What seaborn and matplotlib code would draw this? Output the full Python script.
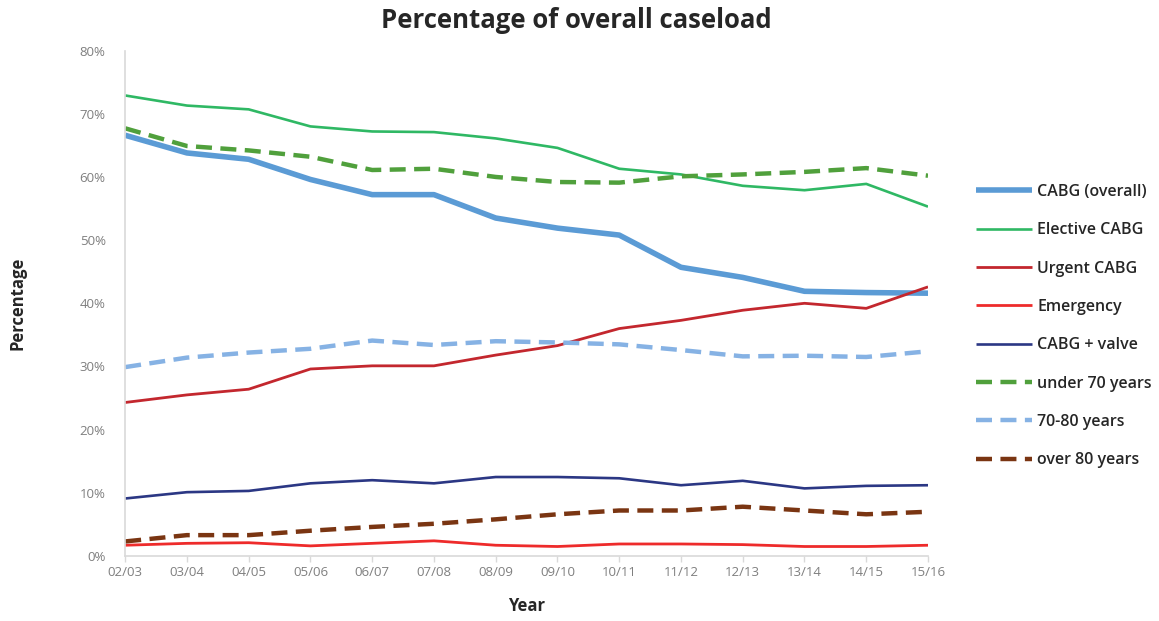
import matplotlib
matplotlib.use("Agg")
import matplotlib.pyplot as plt
import seaborn as sns
import pandas as pd
import numpy as np

years = ["02/03", "03/04", "04/05", "05/06", "06/07", "07/08", "08/09",
         "09/10", "10/11", "11/12", "12/13", "13/14", "14/15", "15/16"]

cabg_overall = [66.6, 63.8, 62.8, 59.6, 57.2, 57.2, 53.5, 51.9, 50.8, 45.7, 44.1, 41.9, 41.7, 41.6]
elective_cabg = [72.9, 71.3, 70.7, 68.0, 67.2, 67.1, 66.1, 64.6, 61.3, 60.4, 58.6, 57.9, 58.9, 55.3]
urgent_cabg = [24.3, 25.5, 26.4, 29.6, 30.1, 30.1, 31.8, 33.3, 36.0, 37.3, 38.9, 40.0, 39.2, 42.6]
emergency = [1.7, 2.0, 2.1, 1.6, 2.0, 2.4, 1.7, 1.5, 1.9, 1.9, 1.8, 1.5, 1.5, 1.7]
cabg_valve = [9.1, 10.1, 10.3, 11.5, 12.0, 11.5, 12.5, 12.5, 12.3, 11.2, 11.9, 10.7, 11.1, 11.2]
under_70 = [67.7, 64.9, 64.2, 63.2, 61.1, 61.3, 60.0, 59.2, 59.1, 60.1, 60.4, 60.8, 61.4, 60.2]
age_70_80 = [29.9, 31.4, 32.2, 32.8, 34.1, 33.4, 34.0, 33.8, 33.5, 32.6, 31.6, 31.7, 31.5, 32.4]
over_80 = [2.3, 3.3, 3.3, 4.0, 4.6, 5.1, 5.8, 6.6, 7.2, 7.2, 7.8, 7.2, 6.6, 7.0]

series_names = ["CABG (overall)", "Elective CABG", "Urgent CABG", "Emergency",
                "CABG + valve", "under 70 years", "70-80 years", "over 80 years"]
series_values = [cabg_overall, elective_cabg, urgent_cabg, emergency,
                 cabg_valve, under_70, age_70_80, over_80]

colors = ["#5B9BD5", "#2FB864", "#C3272E", "#EE2B2B", "#2B3784",
          "#50A03C", "#86B2E4", "#7A3512"]
widths = [4.0, 1.9, 2.0, 2.0, 1.9, 3.2, 3.2, 3.2]
dashed = [False, False, False, False, False, True, True, True]

rows = []
for name, vals in zip(series_names, series_values):
    for i, v in enumerate(vals):
        rows.append({"series": name, "pos": i, "value": v})
df = pd.DataFrame(rows)

sns.set_theme(style="white")
plt.rcParams['font.family'] = ['Open Sans', 'DejaVu Sans']

fig = plt.figure(figsize=(11.59, 6.21), dpi=100)
ax = fig.add_axes([0.108, 0.1047, 0.6927, 0.8138])

for name, c, lw, d in zip(series_names, colors, widths, dashed):
    sub = df[df["series"] == name]
    sns.lineplot(data=sub, x="pos", y="value", ax=ax, color=c, linewidth=lw,
                 label=name, legend=False)
    l = ax.lines[-1]
    if d:
        l.set_dashes([3.6, 1.9])
    l.set_solid_capstyle("butt")
    l.set_dash_capstyle("butt")

ax.set_xlim(0, len(years) - 1)
ax.set_ylim(0, 80)
ax.set_xticks(range(len(years)))
ax.set_xticklabels(years)
ax.set_yticks(np.arange(0, 81, 10))
ax.set_yticklabels([f"{v}%" for v in range(0, 81, 10)])
ax.tick_params(axis="both", labelsize=9.5, labelcolor="#7F7F7F")
ax.tick_params(axis="x", bottom=True, length=4, color="#D9D9D9", width=1, pad=3)
ax.tick_params(axis="y", left=False, pad=8)

for s in ["top", "right"]:
    ax.spines[s].set_visible(False)
for s in ["left", "bottom"]:
    ax.spines[s].set_color("#D9D9D9")
    ax.spines[s].set_linewidth(1.2)

ax.set_xlabel("Year", fontsize=12, fontweight="bold", labelpad=13)
ax.set_ylabel("Percentage", fontsize=12, fontweight="bold", labelpad=38)

fig.suptitle("Percentage of overall caseload", fontsize=18.5, fontweight="bold",
             x=0.497, y=0.988, va="top")

handles, labels = ax.get_legend_handles_labels()
leg = ax.legend(handles, labels, loc="upper left", bbox_to_anchor=(0.83, 0.727),
                bbox_transform=fig.transFigure, frameon=False, handlelength=3.5,
                handletextpad=0.3, labelspacing=1.40,
                prop={"size": 11.5, "weight": "semibold"})

fig.savefig("out.png", dpi=100)
